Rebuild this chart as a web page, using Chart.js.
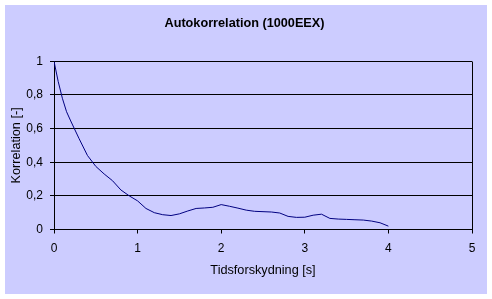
<!DOCTYPE html>
<html>
<head>
<meta charset="utf-8">
<script src="https://cdn.jsdelivr.net/npm/chart.js@4/dist/chart.umd.min.js"></script>
<style>
  html, body { margin: 0; padding: 0; background: #fff; }
  #wrap { width: 492px; height: 299px; }
</style>
</head>
<body>
<div id="wrap"><canvas id="chart" width="492" height="299"></canvas></div>
<script>
// time lag [s] and autocorrelation
const lagSeconds = [0.0, 0.05, 0.1, 0.15, 0.2, 0.3, 0.4, 0.5, 0.6, 0.7, 0.8, 0.9,
  1.0, 1.1, 1.2, 1.3, 1.4, 1.5, 1.6, 1.7, 1.8, 1.9,
  2.0, 2.1, 2.2, 2.3, 2.4, 2.5, 2.6, 2.7, 2.8, 2.9,
  3.0, 3.1, 3.2, 3.3, 3.4, 3.5, 3.6, 3.7, 3.8, 3.9, 4.0];
const correlation = [1.00, 0.88, 0.78, 0.70, 0.645, 0.54, 0.44, 0.375, 0.33, 0.29, 0.235, 0.20,
  0.17, 0.125, 0.10, 0.088, 0.083, 0.093, 0.11, 0.125, 0.128, 0.132,
  0.148, 0.138, 0.127, 0.115, 0.108, 0.106, 0.104, 0.098, 0.078, 0.072,
  0.073, 0.085, 0.091, 0.066, 0.062, 0.060, 0.058, 0.056, 0.050, 0.040, 0.020];

const xRange = [0, 5];
const yRange = [0, 1];
const yStep = 0.2;

const chartTitle = 'Autokorrelation (1000EEX)';
const xTitle = 'Tidsforskydning [s]';
const yTitle = 'Korrelation [-]';

const FONT = 'Arial, "Liberation Sans", sans-serif';

// lavender panel behind the chart, plus the plot-area frame
const panel = {
  id: 'panel',
  beforeDraw(chart) {
    const ctx = chart.ctx;
    ctx.save();
    ctx.fillStyle = '#ffffff';
    ctx.fillRect(0, 0, chart.width, chart.height);
    ctx.fillStyle = '#ccccff';
    ctx.fillRect(5, 5, chart.width - 10, chart.height - 10);
    ctx.restore();
  },
  beforeDatasetsDraw(chart) {
    const a = chart.chartArea;
    const ctx = chart.ctx;
    ctx.save();
    ctx.strokeStyle = '#000';
    ctx.lineWidth = 1;
    ctx.beginPath();
    ctx.moveTo(Math.round(a.right) + 0.5, Math.round(a.top) + 0.5);
    ctx.lineTo(Math.round(a.right) + 0.5, Math.round(a.bottom) + 0.5);
    ctx.stroke();
    ctx.restore();
  }
};

new Chart(document.getElementById('chart'), {
  type: 'line',
  data: {
    datasets: [{
      data: lagSeconds.map((x, i) => ({ x: x, y: correlation[i] })),
      borderColor: '#000080',
      borderWidth: 1,
      pointRadius: 0,
      tension: 0,
      fill: false
    }]
  },
  plugins: [panel],
  options: {
    responsive: false,
    animation: false,
    layout: { padding: { left: 17, right: 20, top: 0, bottom: 0 } },
    plugins: {
      legend: { display: false },
      tooltip: { enabled: false },
      title: {
        display: true,
        text: chartTitle,
        color: '#000',
        font: { family: FONT, size: 12.7, weight: 'bold', lineHeight: 1.2 },
        padding: { top: 16, bottom: 30 }
      }
    },
    scales: {
      x: {
        type: 'linear',
        min: xRange[0],
        max: xRange[1],
        afterFit(scale) { scale.height = 69.5; },
        ticks: {
          stepSize: 1,
          color: '#000',
          padding: 8,
          maxRotation: 0,
          font: { family: FONT, size: 12 }
        },
        grid: { drawOnChartArea: false, drawTicks: true, tickLength: 4, color: '#000' },
        border: { color: '#000', width: 1 },
        title: {
          display: true,
          text: xTitle,
          color: '#000',
          font: { family: FONT, size: 12.7, lineHeight: 1.2 },
          padding: { top: 0, bottom: 21 }
        }
      },
      y: {
        min: yRange[0],
        max: yRange[1],
        afterFit(scale) { scale.width = 37; },
        ticks: {
          stepSize: yStep,
          color: '#000',
          padding: 7,
          font: { family: FONT, size: 12 },
          callback: v => String(Math.round(v * 10) / 10).replace('.', ',')
        },
        grid: { color: '#000', lineWidth: 1, drawTicks: true, tickLength: 4 },
        border: { color: '#000', width: 1 },
        title: {
          display: true,
          text: yTitle,
          color: '#000',
          font: { family: FONT, size: 12.7, lineHeight: 1.2 },
          padding: { top: -8, bottom: 0 }
        }
      }
    }
  }
});
</script>
</body>
</html>
